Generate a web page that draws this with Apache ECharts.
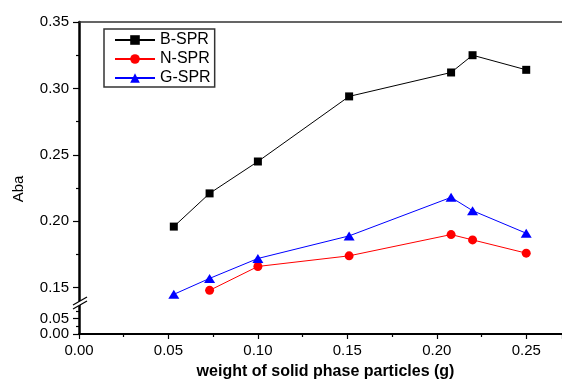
<!DOCTYPE html>
<html>
<head>
<meta charset="utf-8">
<script src="https://cdn.jsdelivr.net/npm/echarts@6.0.0/dist/echarts.min.js"></script>
<style>
  html, body { margin: 0; padding: 0; background: #fff; }
  #chart { width: 562px; height: 384px; }
</style>
</head>
<body>
<div id="chart"></div>
<script>
// weight of solid phase particles (g)
const xB = [0.053, 0.073, 0.100, 0.151, 0.208, 0.220, 0.250];
const yB = [0.196, 0.221, 0.245, 0.294, 0.312, 0.325, 0.314];
const xN = [0.073, 0.100, 0.151, 0.208, 0.220, 0.250];
const yN = [0.148, 0.166, 0.174, 0.190, 0.186, 0.176];
const xG = [0.053, 0.073, 0.100, 0.151, 0.208, 0.220, 0.250];
const yG = [0.145, 0.157, 0.172, 0.189, 0.218, 0.208, 0.191];

const upperTicks = [0.15, 0.20, 0.25, 0.30, 0.35];
const upperMinor = [0.175, 0.225, 0.275, 0.325];
const lowerTicks = [0.00, 0.05];
const lowerMinor = [0.025, 0.075];

const FONT = 'Liberation Sans, Arial, sans-serif';
const pairs = (xs, ys) => xs.map((x, i) => [x, ys[i]]);
const fmt = v => v.toFixed(2);

const chart = echarts.init(document.getElementById('chart'));

const tickStyle = { color: '#000', width: 1.2 };

const option = {
  backgroundColor: '#fff',
  animation: false,
  textStyle: { fontFamily: FONT },
  grid: [
    { left: 79, right: -3, top: 22, height: 279 },
    { left: 79, right: -3, top: 303, height: 31 },
  ],
  legend: {
    left: 104,
    top: 29,
    orient: 'vertical',
    data: ['B-SPR', 'N-SPR', 'G-SPR'],
    itemWidth: 40,
    itemHeight: 12,
    itemGap: 3,
    padding: [3, 4, 1, 10],
    borderColor: '#333',
    borderWidth: 1.5,
    borderRadius: 0,
    textStyle: { color: '#000', fontSize: 16, lineHeight: 16, fontFamily: FONT },
  },
  xAxis: [
    {
      gridIndex: 0,
      type: 'value',
      position: 'top',
      min: 0,
      max: 0.27,
      interval: 0.05,
      axisLine: { show: true, lineStyle: { color: '#333', width: 1.5 } },
      axisTick: { show: false },
      axisLabel: { show: false },
      splitLine: { show: false },
    },
    {
      gridIndex: 1,
      type: 'value',
      position: 'bottom',
      min: 0,
      max: 0.27,
      interval: 0.05,
      axisLine: { show: true, onZero: false, lineStyle: { color: '#000', width: 2 } },
      axisTick: { show: true, inside: false, length: 5, lineStyle: tickStyle },
      minorTick: { show: true, splitNumber: 2, length: 3, lineStyle: tickStyle },
      axisLabel: {
        color: '#000', fontSize: 15, margin: 9, fontFamily: FONT,
        formatter: fmt,
        showMaxLabel: false,
      },
      splitLine: { show: false },
      name: 'weight of solid phase particles (g)',
      nameLocation: 'middle',
      nameGap: 30,
      nameTextStyle: {
        color: '#000', fontSize: 16, fontWeight: 'bold', fontFamily: FONT,
        padding: [0, 0, 0, 10],
      },
    },
  ],
  yAxis: [
    {
      type: 'value',
      gridIndex: 0,
      position: 'left',
      min: 0.14,
      max: 0.35,
      splitLine: { show: false },
      axisLine: { show: true, onZero: false, lineStyle: { color: '#000', width: 2.5 } },
      axisTick: { show: true, length: 6, customValues: upperTicks, lineStyle: tickStyle },
      axisLabel: { color: '#000', fontSize: 15, margin: 10, fontFamily: FONT, customValues: upperTicks, formatter: fmt },
    },
    {
      type: 'value',
      gridIndex: 0,
      position: 'left',
      min: 0.14,
      max: 0.35,
      splitLine: { show: false },
      axisLine: { show: false },
      axisTick: { show: true, length: 3, customValues: upperMinor, lineStyle: tickStyle },
      axisLabel: { show: false },
    },
    {
      type: 'value',
      gridIndex: 1,
      position: 'left',
      min: 0,
      max: 0.1,
      splitLine: { show: false },
      axisLine: { show: true, onZero: false, lineStyle: { color: '#000', width: 2.5 } },
      axisTick: { show: true, length: 6, customValues: lowerTicks, lineStyle: tickStyle },
      axisLabel: { color: '#000', fontSize: 15, margin: 10, fontFamily: FONT, customValues: lowerTicks, formatter: fmt },
    },
    {
      type: 'value',
      gridIndex: 1,
      position: 'left',
      min: 0,
      max: 0.1,
      splitLine: { show: false },
      axisLine: { show: false },
      axisTick: { show: true, length: 3, customValues: lowerMinor, lineStyle: tickStyle },
      axisLabel: { show: false },
    },
  ],
  series: [
    {
      name: 'B-SPR',
      type: 'line',
      xAxisIndex: 0,
      yAxisIndex: 0,
      data: pairs(xB, yB),
      symbol: 'rect',
      symbolSize: 8,
      lineStyle: { color: '#000', width: 1 },
      itemStyle: { color: '#000' },
    },
    {
      name: 'N-SPR',
      type: 'line',
      xAxisIndex: 0,
      yAxisIndex: 0,
      data: pairs(xN, yN),
      symbol: 'circle',
      symbolSize: 9,
      lineStyle: { color: '#ff0000', width: 1 },
      itemStyle: { color: '#ff0000' },
    },
    {
      name: 'G-SPR',
      type: 'line',
      xAxisIndex: 0,
      yAxisIndex: 0,
      data: pairs(xG, yG),
      symbol: 'triangle',
      symbolSize: [11, 9],
      lineStyle: { color: '#0000ff', width: 1 },
      itemStyle: { color: '#0000ff' },
    },
  ],
  graphic: [
    // axis break marks
    {
      type: 'polygon',
      shape: { points: [[73, 309], [87, 301], [87, 297], [73, 305]] },
      style: { fill: '#fff' },
      z: 100,
    },
    {
      type: 'line',
      shape: { x1: 73, y1: 309, x2: 87, y2: 301 },
      style: { stroke: '#000', lineWidth: 1.2 },
      z: 101,
    },
    {
      type: 'line',
      shape: { x1: 73, y1: 305, x2: 87, y2: 297 },
      style: { stroke: '#000', lineWidth: 1.2 },
      z: 101,
    },
    {
      type: 'text',
      x: 19,
      y: 189,
      rotation: Math.PI / 2,
      style: {
        text: 'Aba',
        fill: '#000',
        font: '15px ' + FONT,
        align: 'center',
        verticalAlign: 'middle',
      },
    },
  ],
};

chart.setOption(option);
</script>
</body>
</html>
